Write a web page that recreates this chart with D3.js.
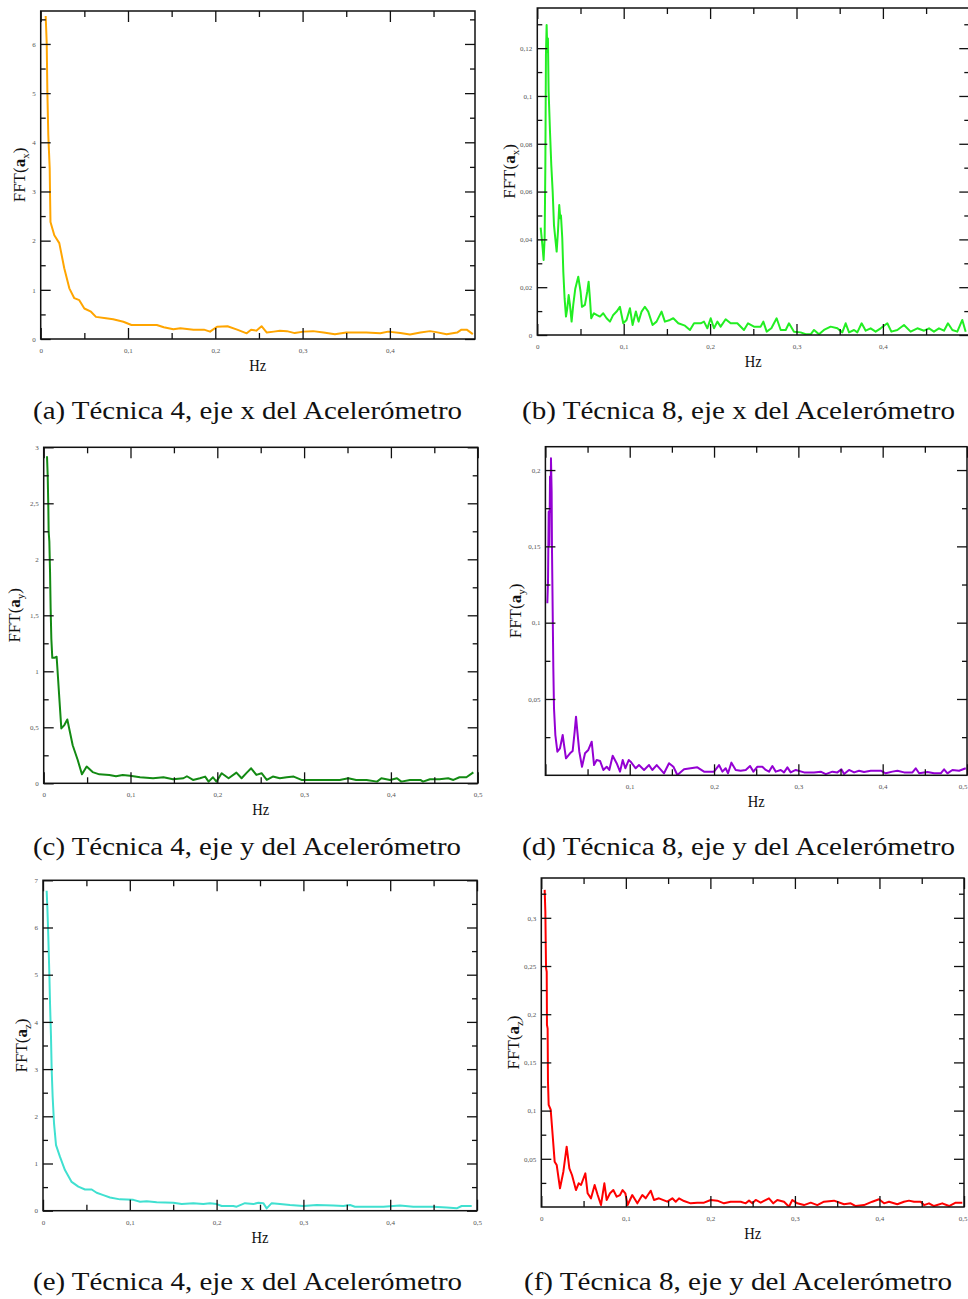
<!DOCTYPE html>
<html>
<head>
<meta charset="utf-8">
<script src="https://cdn.jsdelivr.net/npm/d3@7"></script>
<style>
  html, body { margin: 0; padding: 0; background: #fff; }
  svg { display: block; }
  .tick text { font-family: "Liberation Serif", serif; font-size: 7px; fill: #555; }
  .tick line { stroke: #111; stroke-width: 1.3; }
  .frame { fill: none; stroke: #111; stroke-width: 1.5; }
  .caption { font-family: "Liberation Serif", serif; font-size: 25px; fill: #111; }
  .xtitle { font-family: "Liberation Serif", serif; font-size: 17px; fill: #111; }
  .ytitle { font-family: "Liberation Serif", serif; font-size: 17px; fill: #111; }
</style>
</head>
<body>
<svg id="chart" width="968" height="1299"></svg>
<script>
// ---------------- data ----------------
// (a) Técnica 4, eje x
const freqA = [0.0057,0.0069,0.0076,0.0087,0.0103,0.0108,0.0112,0.0156,0.0213,0.027,0.0328,0.0385,0.0442,0.050,0.0576,0.0633,0.0748,0.083,0.0947,0.104,0.133,0.141,0.152,0.160,0.175,0.187,0.194,0.202,0.214,0.225,0.236,0.241,0.247,0.253,0.259,0.267,0.274,0.282,0.291,0.301,0.312,0.324,0.337,0.350,0.373,0.389,0.398,0.412,0.423,0.435,0.446,0.453,0.465,0.477,0.482,0.488,0.495];
const fftA = [6.57,6.01,5.06,4.15,3.47,2.83,2.38,2.11,1.95,1.44,1.03,0.83,0.79,0.62,0.555,0.45,0.42,0.40,0.35,0.285,0.285,0.24,0.20,0.22,0.19,0.19,0.15,0.25,0.26,0.19,0.115,0.19,0.17,0.26,0.13,0.15,0.17,0.16,0.12,0.15,0.16,0.13,0.095,0.13,0.13,0.115,0.15,0.12,0.09,0.13,0.16,0.14,0.095,0.13,0.19,0.19,0.10];

// (b) Técnica 8, eje x
const freqB = [0.0039,0.0051,0.0062,0.0073,0.0085,0.0093,0.0100,0.0108,0.0116,0.0123,0.0131,0.0147,0.0162,0.0178,0.0193,0.0208,0.0224,0.0239,0.0254,0.0266,0.0274,0.0289,0.0301,0.0316,0.0332,0.0347,0.0363,0.0378,0.0397,0.0416,0.044,0.0474,0.0501,0.0517,0.0551,0.0578,0.0594,0.0609,0.0624,0.0655,0.0686,0.0725,0.0763,0.0802,0.0841,0.0879,0.0918,0.0956,0.0995,0.1033,0.1072,0.1103,0.1141,0.1172,0.1207,0.1245,0.1284,0.1334,0.138,0.1438,0.1477,0.1535,0.1574,0.1632,0.1709,0.1767,0.1814,0.1891,0.1929,0.1968,0.2007,0.2045,0.2084,0.2122,0.2180,0.2238,0.2315,0.2392,0.2439,0.2508,0.2585,0.2616,0.2655,0.2709,0.2770,0.2817,0.2875,0.2913,0.2971,0.3048,0.3106,0.3164,0.3203,0.3260,0.3318,0.3395,0.3473,0.3530,0.3569,0.3608,0.3666,0.3704,0.3754,0.3801,0.3858,0.3916,0.3974,0.4051,0.4098,0.4167,0.4244,0.4321,0.4399,0.4476,0.4534,0.4591,0.4649,0.4707,0.4753,0.4804,0.4861,0.4919,0.4958];
const fftB = [0.0449,0.0405,0.0363,0.0314,0.0405,0.070,0.117,0.1297,0.1185,0.124,0.102,0.085,0.071,0.060,0.046,0.0405,0.0349,0.0432,0.0544,0.0488,0.050,0.0405,0.0265,0.0153,0.0077,0.0112,0.0167,0.0126,0.0056,0.0126,0.0195,0.0244,0.0181,0.0118,0.0126,0.0181,0.0223,0.0153,0.007,0.0091,0.0084,0.0077,0.0091,0.007,0.0056,0.0084,0.0098,0.0118,0.0049,0.0063,0.0112,0.0042,0.0098,0.0056,0.0098,0.0118,0.0098,0.0042,0.0056,0.0098,0.0056,0.0063,0.007,0.0049,0.0039,0.0021,0.0049,0.0049,0.0056,0.0028,0.007,0.0028,0.0056,0.0035,0.0066,0.0049,0.0049,0.0021,0.0049,0.0035,0.0035,0.0056,0.0014,0.0028,0.007,0.0021,0.0021,0.0049,0.0014,0.0011,0.0003,0.0003,0.0021,0.0003,0.0021,0.0035,0.0028,0.0011,0.0049,0.0011,0.0021,0.0011,0.0049,0.0018,0.0028,0.0014,0.0028,0.0049,0.0014,0.0021,0.0042,0.0014,0.0028,0.0018,0.0028,0.0014,0.0028,0.0018,0.0049,0.0021,0.0014,0.0063,0.0014];

// (c) Técnica 4, eje y
const freqC = [0.0038,0.0046,0.0053,0.0057,0.0065,0.0073,0.0080,0.0088,0.0099,0.0122,0.0149,0.0165,0.0180,0.0203,0.0238,0.0272,0.0334,0.0391,0.0441,0.0495,0.0564,0.0641,0.0756,0.0833,0.0910,0.0995,0.111,0.126,0.138,0.149,0.161,0.165,0.172,0.180,0.186,0.190,0.195,0.199,0.205,0.213,0.222,0.228,0.234,0.239,0.245,0.251,0.257,0.264,0.272,0.280,0.288,0.297,0.311,0.326,0.341,0.351,0.360,0.372,0.384,0.389,0.399,0.407,0.412,0.422,0.434,0.437,0.445,0.456,0.466,0.472,0.479,0.487,0.495];
const fftC = [2.92,2.75,2.48,2.25,2.16,1.89,1.56,1.29,1.12,1.12,1.13,0.94,0.76,0.49,0.52,0.57,0.34,0.21,0.08,0.15,0.10,0.08,0.075,0.0625,0.075,0.068,0.054,0.045,0.054,0.036,0.045,0.063,0.03,0.045,0.06,0.015,0.054,0.015,0.09,0.045,0.095,0.045,0.095,0.134,0.075,0.09,0.03,0.06,0.045,0.054,0.06,0.03,0.03,0.03,0.03,0.045,0.03,0.03,0.015,0.045,0.03,0.045,0.015,0.03,0.03,0.015,0.036,0.036,0.045,0.03,0.054,0.054,0.098];

// (d) Técnica 8, eje y
const freqD = [0.0023,0.0031,0.0039,0.0047,0.0055,0.0062,0.0066,0.0074,0.0078,0.0086,0.0094,0.0102,0.0118,0.0142,0.0173,0.0205,0.0221,0.0244,0.0292,0.0323,0.0347,0.0363,0.0379,0.0402,0.0434,0.0470,0.0509,0.0549,0.0577,0.0608,0.0648,0.0687,0.0727,0.0758,0.0798,0.0845,0.0885,0.0917,0.0948,0.0988,0.1011,0.1071,0.1110,0.1170,0.1229,0.1268,0.1320,0.1407,0.1466,0.1518,0.1565,0.1644,0.1723,0.1802,0.1881,0.2000,0.2059,0.2099,0.2138,0.2166,0.2206,0.2257,0.2316,0.2376,0.2427,0.2467,0.2514,0.2573,0.2613,0.2652,0.2692,0.2732,0.2791,0.2830,0.2870,0.2909,0.2969,0.3068,0.3186,0.3265,0.3325,0.3404,0.3463,0.3510,0.3542,0.3601,0.3661,0.3720,0.3779,0.3859,0.3977,0.4036,0.4115,0.4175,0.4254,0.4353,0.4392,0.4432,0.4531,0.4610,0.4689,0.4728,0.4768,0.4827,0.4906,0.4985];
const fftD = [0.1127,0.1269,0.1727,0.1509,0.1957,0.1727,0.2077,0.1858,0.1488,0.1094,0.0701,0.0439,0.0264,0.0155,0.0177,0.0264,0.0199,0.0111,0.0144,0.0159,0.0286,0.0384,0.0286,0.0155,0.0056,0.0144,0.0166,0.0220,0.0067,0.0100,0.0094,0.0035,0.0056,0.0035,0.0128,0.0079,0.0024,0.0100,0.0046,0.0100,0.0089,0.0046,0.0067,0.0035,0.0067,0.0035,0.0067,0.0013,0.0079,0.0056,0.0002,0.0039,0.0046,0.0052,0.0024,0.0024,0.0067,0.0024,0.0046,0.0013,0.0083,0.0035,0.0030,0.0035,0.0061,0.0024,0.0056,0.0056,0.0035,0.0024,0.0061,0.0024,0.0035,0.0019,0.0052,0.0019,0.0035,0.0019,0.0019,0.0024,0.0008,0.0024,0.0019,0.0039,0.0008,0.0035,0.0019,0.0030,0.0022,0.0030,0.0030,0.0013,0.0024,0.0030,0.0019,0.0019,0.0046,0.0013,0.0022,0.0013,0.0013,0.0039,0.0013,0.0035,0.0030,0.0046];

// (e) Técnica 4, eje z
const freqE = [0.0042,0.0050,0.0061,0.0073,0.0081,0.0092,0.0100,0.0111,0.0127,0.0150,0.0196,0.0253,0.0330,0.0407,0.0484,0.0561,0.0618,0.0695,0.0772,0.0887,0.1041,0.1118,0.1195,0.1310,0.1502,0.1598,0.1732,0.1847,0.1924,0.2001,0.2059,0.2192,0.2231,0.2327,0.2423,0.2481,0.2538,0.2577,0.2635,0.2730,0.2846,0.3000,0.3153,0.3345,0.3460,0.3537,0.3594,0.3729,0.3921,0.4113,0.4266,0.4497,0.4651,0.4766,0.4823,0.4939];
const fftE = [6.78,6.44,5.81,5.03,4.39,3.69,2.98,2.42,1.85,1.39,1.14,0.86,0.61,0.51,0.45,0.45,0.38,0.33,0.28,0.24,0.23,0.19,0.20,0.18,0.17,0.14,0.16,0.14,0.16,0.14,0.10,0.10,0.085,0.16,0.14,0.17,0.16,0.05,0.16,0.14,0.12,0.10,0.12,0.11,0.10,0.12,0.085,0.085,0.085,0.11,0.085,0.085,0.07,0.05,0.10,0.10];

// (f) Técnica 8, eje z
const freqF = [0.0040,0.0048,0.0056,0.0064,0.0067,0.0075,0.0079,0.0087,0.0111,0.0134,0.0158,0.0182,0.0221,0.0261,0.0300,0.0332,0.0363,0.0410,0.0442,0.0470,0.0521,0.0548,0.0588,0.0631,0.0667,0.0706,0.0746,0.0773,0.0813,0.0852,0.0892,0.0931,0.0962,0.0994,0.1021,0.1076,0.1136,0.1195,0.1235,0.1294,0.1333,0.1392,0.1490,0.1550,0.1590,0.1629,0.1688,0.1767,0.1845,0.1925,0.2004,0.2082,0.2161,0.2240,0.2359,0.2418,0.2457,0.2496,0.2536,0.2595,0.2693,0.2744,0.2792,0.2871,0.2930,0.2969,0.3028,0.3107,0.3187,0.3265,0.3344,0.3462,0.3581,0.3660,0.3719,0.3817,0.3915,0.3995,0.4054,0.4113,0.4211,0.4290,0.4349,0.4409,0.4488,0.4527,0.4586,0.4645,0.4743,0.4823,0.4902,0.4980];
const fftF = [0.329,0.306,0.248,0.244,0.189,0.185,0.130,0.106,0.101,0.075,0.047,0.0436,0.0194,0.0366,0.0626,0.0401,0.0332,0.0176,0.0246,0.0228,0.0349,0.0142,0.009,0.0228,0.0124,0.0021,0.0246,0.0073,0.0142,0.0176,0.0107,0.0124,0.0176,0.0142,0.0021,0.0124,0.0038,0.0124,0.009,0.0169,0.0073,0.009,0.0055,0.009,0.0055,0.009,0.0062,0.0038,0.0045,0.0045,0.0073,0.0066,0.0038,0.0055,0.0055,0.0038,0.0066,0.0038,0.0073,0.0045,0.009,0.0038,0.0073,0.0055,0.0003,0.0073,0.0038,0.002,0.0045,0.002,0.0055,0.0066,0.0028,0.0038,0.001,0.002,0.0055,0.008,0.0038,0.0055,0.0028,0.0055,0.0066,0.0055,0.0055,0.002,0.0038,0.001,0.0038,0.001,0.0045,0.0045];

// axis tick values
const xTicksMajor = [0, 0.1, 0.2, 0.3, 0.4, 0.5];
const xLabelsA = [0, 0.1, 0.2, 0.3, 0.4];
const xLabelsB = [0, 0.1, 0.2, 0.3, 0.4];
const xLabelsC = [0, 0.1, 0.2, 0.3, 0.4, 0.5];
const xLabelsD = [0.1, 0.2, 0.3, 0.4, 0.5];
const xLabelsE = [0, 0.1, 0.2, 0.3, 0.4, 0.5];
const xLabelsF = [0, 0.1, 0.2, 0.3, 0.4, 0.5];
const yTicksA = [0, 1, 2, 3, 4, 5, 6];
const yTicksB = [0, 0.02, 0.04, 0.06, 0.08, 0.1, 0.12];
const yTicksC = [0, 0.5, 1, 1.5, 2, 2.5, 3];
const yTicksD = [0.05, 0.1, 0.15, 0.2];
const yTicksE = [0, 1, 2, 3, 4, 5, 6, 7];
const yTicksF = [0.05, 0.1, 0.15, 0.2, 0.25, 0.3];

const captions = [
  "(a) Técnica 4, eje x del Acelerómetro",
  "(b) Técnica 8, eje x del Acelerómetro",
  "(c) Técnica 4, eje y del Acelerómetro",
  "(d) Técnica 8, eje y del Acelerómetro",
  "(e) Técnica 4, eje x del Acelerómetro",
  "(f) Técnica 8, eje y del Acelerómetro"
];
const axisSubs = ["x", "x", "y", "y", "z", "z"];
const colors = ["#FFA500", "#22EE22", "#138A13", "#9400D3", "#40E0D0", "#FF0000"];

// ---------------- layout ----------------
const panels = [
  {f: freqA, v: fftA, left: 40.7, right: 475, top: 11, bottom: 339, xmax: 0.4975, ymax: 6.67, yt: yTicksA, ystep: 0.5, xl: xLabelsA,
   cap: {x: 33, y: 419, w: 429}, ytx: 20},
  {f: freqB, v: fftB, left: 537.3, right: 969.3, top: 8, bottom: 335, xmax: 0.5, ymax: 0.1368, yt: yTicksB, ystep: 0.01, xl: xLabelsB,
   cap: {x: 522, y: 419, w: 433}, ytx: 510},
  {f: freqC, v: fftC, left: 43.7, right: 477.7, top: 447.3, bottom: 783.3, xmax: 0.5, ymax: 3, yt: yTicksC, ystep: 0.25, xl: xLabelsC,
   cap: {x: 33, y: 855, w: 428}, ytx: 15},
  {f: freqD, v: fftD, left: 545.4, right: 967, top: 446.7, bottom: 775.3, xmax: 0.5, ymax: 0.2153, yt: yTicksD, ystep: 0.025, xl: xLabelsD,
   cap: {x: 522, y: 855, w: 433}, ytx: 516},
  {f: freqE, v: fftE, left: 43, right: 477, top: 880.3, bottom: 1210.7, xmax: 0.5, ymax: 7, yt: yTicksE, ystep: 0.5, xl: xLabelsE,
   cap: {x: 33, y: 1290, w: 429}, ytx: 22},
  {f: freqF, v: fftF, left: 541.3, right: 964, top: 878, bottom: 1207, xmax: 0.5, ymax: 0.3413, yt: yTicksF, ystep: 0.025, xl: xLabelsF,
   cap: {x: 524, y: 1290, w: 428}, ytx: 514}
];

const locale = d3.formatLocale({decimal: ",", thousands: ".", grouping: [3], currency: ["", ""]});
const fmt = v => locale.format("~g")(+v.toFixed(4));

const svg = d3.select("#chart");

panels.forEach((p, i) => {
  const w = p.right - p.left, h = p.bottom - p.top;
  const g = svg.append("g").attr("transform", `translate(${p.left},${p.top})`);
  const x = d3.scaleLinear().domain([0, p.xmax]).range([0, w]);
  const y = d3.scaleLinear().domain([0, p.ymax]).range([h, 0]);

  const xMaj = xTicksMajor.filter(t => t <= p.xmax + 1e-9);
  const xMin = d3.range(0.05, p.xmax + 1e-9, 0.1);
  const yMin = d3.range(0, p.ymax + 1e-9, p.ystep).filter(t => !p.yt.some(m => Math.abs(m - t) < 1e-9) && t > 1e-9);
  const yMaj = p.yt;
  const xLab = p.xl;

  const clipId = "clip" + i;
  g.append("clipPath").attr("id", clipId).append("rect").attr("width", w).attr("height", h);

  // line
  const data = p.f.map((f, k) => [f, p.v[k]]);
  g.append("path").datum(data)
    .attr("clip-path", `url(#${clipId})`)
    .attr("fill", "none").attr("stroke", colors[i]).attr("stroke-width", 2)
    .attr("stroke-linejoin", "round")
    .attr("d", d3.line().x(d => x(d[0])).y(d => y(d[1])));

  // axes: inward ticks on all four sides
  const addAxis = (axis, tr) => {
    const a = g.append("g").attr("transform", tr).call(axis);
    a.select(".domain").remove();
    a.selectAll(".tick text").attr("fill", "#555");
    return a;
  };
  const bx = addAxis(d3.axisBottom(x).tickValues(xLab).tickFormat(fmt).tickSize(-11).tickPadding(9), `translate(0,${h})`);
  // keep the right-most label inside the page
  bx.selectAll(".tick text").each(function(d) {
    if (p.left + x(d) + 6 > 968) d3.select(this).attr("text-anchor", "end").attr("x", 968 - p.left - x(d) - 1);
  });
  addAxis(d3.axisBottom(x).tickValues(xMaj.filter(t => !xLab.includes(t))).tickFormat("").tickSize(-11), `translate(0,${h})`);
  addAxis(d3.axisBottom(x).tickValues(xMin).tickFormat("").tickSize(-6), `translate(0,${h})`);
  addAxis(d3.axisTop(x).tickValues(xMaj).tickFormat("").tickSize(-11), "translate(0,0)");
  addAxis(d3.axisTop(x).tickValues(xMin).tickFormat("").tickSize(-6), "translate(0,0)");

  addAxis(d3.axisLeft(y).tickValues(yMaj).tickFormat(fmt).tickSize(-10).tickPadding(5), "translate(0,0)");
  addAxis(d3.axisLeft(y).tickValues(yMin).tickFormat("").tickSize(-5), "translate(0,0)");
  addAxis(d3.axisRight(y).tickValues(yMaj).tickFormat("").tickSize(-10), `translate(${w},0)`);
  addAxis(d3.axisRight(y).tickValues(yMin).tickFormat("").tickSize(-5), `translate(${w},0)`);

  g.append("rect").attr("class", "frame").attr("width", w).attr("height", h);

  // axis titles
  svg.append("text").attr("class", "xtitle")
    .attr("x", p.left + w / 2).attr("y", p.bottom + 32)
    .attr("text-anchor", "middle")
    .attr("textLength", 17).attr("lengthAdjust", "spacingAndGlyphs")
    .text("Hz");

  const yt = svg.append("text").attr("class", "ytitle")
    .attr("transform", `translate(${p.ytx + 5},${p.top + h / 2}) rotate(-90)`)
    .attr("text-anchor", "middle");
  yt.append("tspan").text("FFT(");
  yt.append("tspan").attr("font-weight", "bold").text("a");
  yt.append("tspan").attr("font-size", "11px").attr("dy", 4).text(axisSubs[i]);
  yt.append("tspan").attr("dy", -4).text(")");

  // caption
  svg.append("text").attr("class", "caption")
    .attr("x", p.cap.x).attr("y", p.cap.y)
    .attr("textLength", p.cap.w).attr("lengthAdjust", "spacingAndGlyphs")
    .text(captions[i]);
});
</script>
</body>
</html>
